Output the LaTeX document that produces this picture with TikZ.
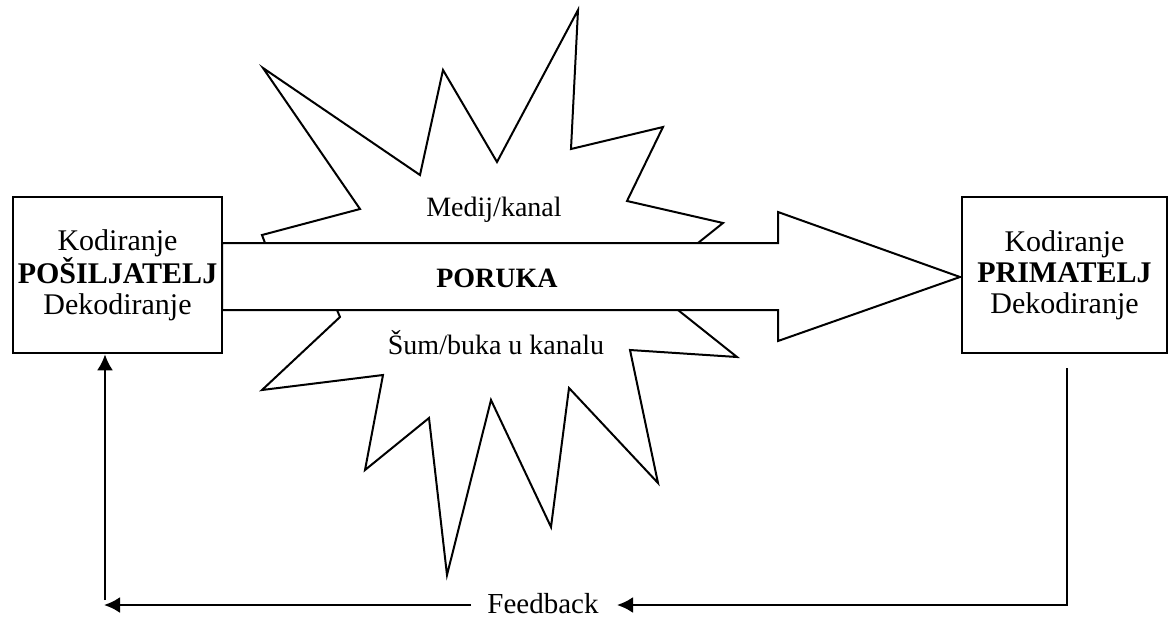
\documentclass[tikz,border=0pt]{standalone}
\usepackage{fontspec}
\setmainfont{Liberation Serif}
\usetikzlibrary{arrows.meta}
\begin{document}
\begin{tikzpicture}[x=1pt,y=-1pt,
  party/.style={draw,line width=2.6pt,fill=white,minimum height=156pt,align=center,inner sep=0pt,font=\fontsize{30}{31}\selectfont},
  lbl/.style={font=\fontsize{28}{31}\selectfont,inner sep=2pt},
  shape line/.style={line width=2pt,fill=white,line join=miter},
  fbline/.style={line width=2.4pt},
  tip/.style={-{Latex[length=16pt,width=16pt]}}]
\useasboundingbox (0,0) rectangle (1169,619);
% noise starburst
\draw[shape line] (265,243) -- (262,235) -- (360,209) -- (263,68) -- (420,175) -- (443,70) -- (497,162) -- (578,10) -- (571,149) -- (663,127) -- (627,201) -- (723,223) -- (698,243)
  -- (678,310) -- (737,357) -- (630,350) -- (658,483) -- (569,388) -- (551,527) -- (491,400) -- (447,575) -- (429,418) -- (365,470) -- (383,375) -- (262,390) -- (340,317) -- (337,310) -- cycle;
% message arrow
\draw[shape line] (222,243) -- (778,243) -- (778,212) -- (960,277) -- (778,341) -- (778,310) -- (222,310) -- cycle;
% boxes
\node[party,minimum width=209pt] (sender) at (117.5,275) {Kodiranje\\\textbf{POŠILJATELJ}\\Dekodiranje};
\node[party,minimum width=205pt] (receiver) at (1064.5,275) {Kodiranje\\\textbf{PRIMATELJ}\\Dekodiranje};
% labels
\node[lbl] (medij) at (494,210) {Medij/kanal};
\node[lbl] (poruka) at (497,278) {\textbf{PORUKA}};
\node[lbl] (sum) at (496,343) {Šum/buka u kanalu};
\node[lbl,font=\fontsize{29}{31}\selectfont] (fb) at (543,604) {Feedback};
% feedback path
\coordinate (rstart) at (1067,368);
\coordinate (rcorner) at (1067,605);
\coordinate (fbin) at (617,605);
\coordinate (fbout) at (471,605);
\coordinate (lend) at (104,605);
\coordinate (lstart) at (105,600);
\draw[fbline,tip] (rstart) -- (rcorner) -- (fbin);
\draw[fbline,tip] (fbout) -- (lend);
\draw[fbline,tip] (lstart) -- (lstart |- sender.south);
\end{tikzpicture}
\end{document}
